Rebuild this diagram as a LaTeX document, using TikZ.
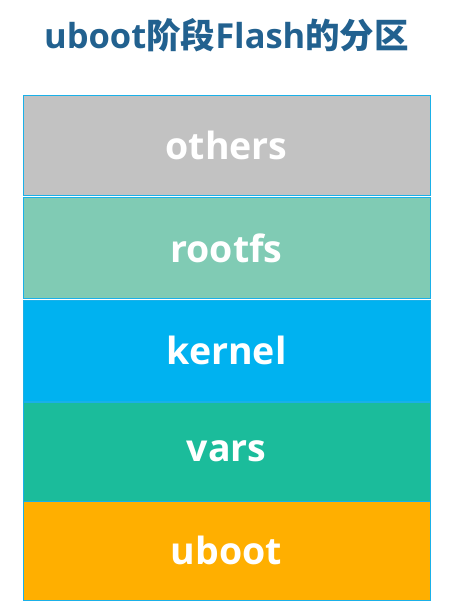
\documentclass[tikz,border=0pt]{standalone}
\usepackage{fontspec}
\setmainfont{Open Sans}
\newfontfamily\cjk{Noto Sans CJK SC}
\usetikzlibrary{positioning}
\definecolor{titleblue}{HTML}{22618F}
\definecolor{edgeblue}{HTML}{1AB0E8}
\definecolor{othersgray}{HTML}{C2C2C2}
\definecolor{rootfsgreen}{HTML}{80CBB4}
\definecolor{kernelblue}{HTML}{00B2F0}
\definecolor{varsgreen}{HTML}{1BBC9B}
\definecolor{ubootorange}{HTML}{FFAF00}
\begin{document}
\begin{tikzpicture}[
        part/.style={rectangle, draw=edgeblue, line width=0.6pt, minimum width=407pt,
            minimum height=100pt, inner sep=0pt, text=white, font=\bfseries\fontsize{37.5}{44}\selectfont},
        node distance=0pt
    ]
    \useasboundingbox (0,0) rectangle (451pt,-613pt);
    % Title
    \node [text=titleblue, font=\bfseries\fontsize{34.5}{41}\selectfont] (title) at (226.5pt,-35pt) {uboot{\cjk 阶段}Flash{\cjk 的分区}};
    % Partitions
    \node [part, fill=othersgray] (others) at (226.5pt,-145pt) {others};
    \node [part, fill=rootfsgreen, minimum height=101pt, below=2pt of others] (rootfs) {rootfs};
    \node [part, fill=kernelblue, minimum height=101pt, below=1pt of rootfs] (kernel) {kernel};
    \node [part, fill=varsgreen, minimum height=99pt, below=of kernel] (vars) {vars};
    \node [part, fill=ubootorange, minimum height=99pt, below=of vars] (uboot) {uboot};
\end{tikzpicture}
\end{document}
